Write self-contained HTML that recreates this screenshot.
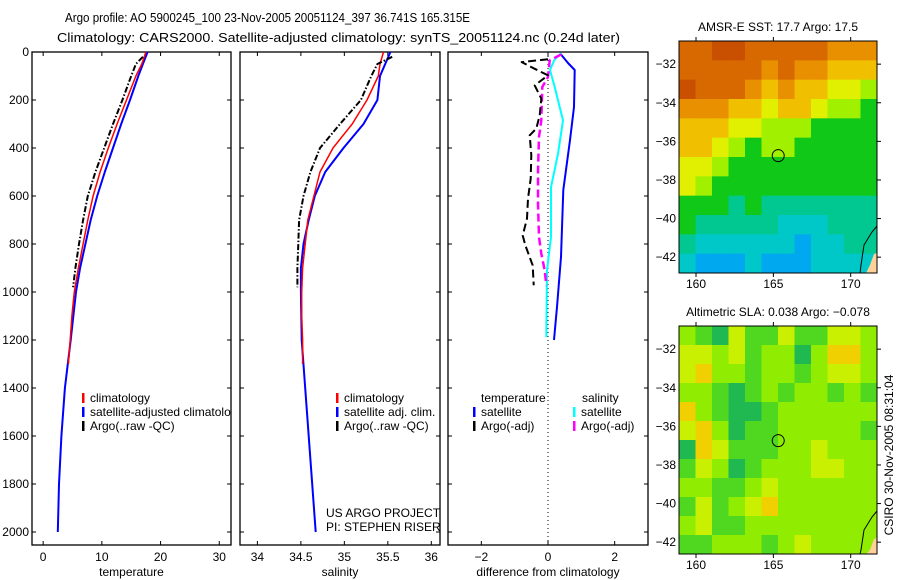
<!DOCTYPE html>
<html><head><meta charset="utf-8"><style>
html,body{margin:0;padding:0;background:#fff;}
svg{display:block;font-family:"Liberation Sans",sans-serif;}
text{font-size:12px;fill:#000;}
</style></head><body>
<svg id="c" width="900" height="580" viewBox="0 0 900 580" xmlns="http://www.w3.org/2000/svg">
<defs><clipPath id="cp1"><rect x="32" y="52" width="199" height="493"/></clipPath></defs>
<text x="65" y="22" style="font-size:13px" textLength="405" lengthAdjust="spacingAndGlyphs">Argo profile: AO 5900245_100 23-Nov-2005 20051124_397 36.741S 165.315E</text>
<text x="57" y="42" style="font-size:13px" textLength="563" lengthAdjust="spacingAndGlyphs">Climatology: CARS2000. Satellite-adjusted climatology: synTS_20051124.nc (0.24d later)</text>
<g id="layer"></g>
</svg>
<script>
// ---- data ----
const tDepthClim=[0,50,100,200,300,400,500,600,700,800,900,1000,1100,1200,1300];
const tClim=[17.5,16.8,15.8,14.2,12.6,11.1,9.7,8.5,7.6,6.8,6.0,5.3,4.9,4.6,4.3];
const tDepthSat=[0,50,100,200,300,400,500,600,700,800,900,1000,1200,1400,1600,1800,2000];
const tSat=[17.8,17.0,16.2,14.8,13.3,11.9,10.5,9.2,8.1,7.2,6.3,5.6,4.7,3.7,3.1,2.7,2.5];
const tDepthArgo=[20,50,100,200,300,400,500,600,700,800,900,980];
const tArgo=[17.0,15.8,15.0,13.5,11.9,10.4,8.9,7.6,6.8,6.1,5.5,5.1];
const sClim=[35.45,35.41,35.39,35.26,35.09,34.87,34.72,34.65,34.58,34.55,34.52,34.51,34.51,34.52,34.52];
const sSat=[35.53,35.47,35.41,35.38,35.22,34.99,34.78,34.66,34.59,34.53,34.5,34.5,34.51,34.55,34.59,34.63,34.67];
const sArgo=[35.55,35.38,35.31,35.19,34.95,34.72,34.61,34.53,34.48,34.47,34.46,34.46];
const dDepthT=[5,46,75,229,367,575,854,1062,1200];
const dTSat=[0.36,0.6,0.8,0.78,0.66,0.46,0.39,0.27,0.18];
const dDepthS=[5,30,75,146,285,424,563,771,910,1188];
const dSSat=[0.4,0.2,0.06,0.2,0.45,0.3,0.09,0.09,-0.03,-0.05];
const dDepthTA=[30,42,70,97,139,194,264,319,347,430,528,611,694,764,805,889,972];
const dTArgo=[0.0,-0.79,-0.4,0,-0.4,-0.2,-0.25,-0.35,-0.55,-0.5,-0.52,-0.6,-0.63,-0.76,-0.68,-0.46,-0.43];
const dDepthSA=[10,35,104,146,285,354,493,632,771,840,910,972];
const dSArgo=[0.4,0.05,0.0,-0.17,-0.2,-0.27,-0.3,-0.3,-0.27,-0.2,-0.1,-0.05];
const depthTicks=[0,200,400,600,800,1000,1200,1400,1600,1800,2000];
const tTicks=[0,10,20,30];
const sTicks=[34,34.5,35,35.5,36];
const dTicks=[-2,0,2];
const sstGrid=[
[8,8,9,9,8,8,8,8,8,7,7,7],
[8,8,8,8,8,7,8,7,7,6,6,6],
[9,8,8,8,7,6,7,6,6,5,5,4],
[7,7,7,6,6,5,6,6,5,4,4,3],
[6,6,6,5,5,4,4,4,3,3,3,3],
[6,6,5,4,3,4,4,3,3,3,3,3],
[5,5,4,3,3,3,3,3,3,3,3,3],
[5,4,3,3,3,3,3,3,3,3,3,3],
[3,3,3,2,3,2,2,2,2,2,2,2],
[3,2,2,2,2,2,1,1,1,2,2,2],
[2,1,1,1,1,1,1,0,1,1,2,2],
[1,0,0,0,1,0,0,0,1,1,1,1]];
const slaGrid=[
[2,1,0,3,1,1,3,1,1,3,3,2],
[3,3,2,3,1,2,2,0,2,4,4,2],
[3,4,2,2,1,2,2,1,2,3,3,2],
[2,2,1,0,1,2,1,2,2,1,2,1],
[4,2,1,0,0,1,2,2,2,2,2,2],
[3,4,2,0,1,1,2,2,2,2,2,1],
[0,4,3,1,1,1,2,2,3,2,2,2],
[1,3,2,0,1,2,2,2,3,3,2,2],
[2,2,1,1,2,3,2,2,2,2,2,2],
[1,3,1,2,3,4,2,2,2,2,2,2],
[2,3,1,1,2,2,2,2,2,2,2,2],
[1,1,2,2,2,1,2,3,2,2,2,2]];
const latTicks=[-32,-34,-36,-38,-40,-42];
const lonTicks=[160,165,170];
const argoLon=165.315, argoLat=-36.741;

const NS='http://www.w3.org/2000/svg';
const L=document.getElementById('layer');
function mk(tag,attrs,parent){const e=document.createElementNS(NS,tag);for(const k in attrs)e.setAttribute(k,attrs[k]);(parent||L).appendChild(e);return e;}
function txt(x,y,s,anchor,parent){const e=mk('text',{x:x,y:y,'text-anchor':anchor||'start'},parent);e.textContent=s;return e;}

const plotTop=52,plotBot=545;
function yD(d){return 52+d*0.24;}
function panel(name,x0,x1,xmin,xmax,xt,label,showY){
  const g=mk('g',{});
  
  
  const fx=v=>x0+(v-xmin)/(xmax-xmin)*(x1-x0);
  const r=mk('rect',{x:x0,y:plotTop,width:x1-x0,height:plotBot-plotTop,fill:'none',stroke:'#000','stroke-width':1.3},g);
  
  
  depthTicks.forEach(d=>{const y=yD(d);
    mk('line',{x1:x0,x2:x0+4,y1:y,y2:y,stroke:'#000'},g);
    mk('line',{x1:x1-4,x2:x1,y1:y,y2:y,stroke:'#000'},g);
    if(showY){const t=txt(x0-3,y+4,String(d),'end',g);
      
      }
  });
  xt.forEach(v=>{const x=fx(v);
    mk('line',{x1:x,x2:x,y1:plotBot,y2:plotBot-4,stroke:'#000'},g);
    mk('line',{x1:x,x2:x,y1:plotTop,y2:plotTop+4,stroke:'#000'},g);
    const t=txt(x,561,String(v).replace('-','\u2212'),'middle',g);
    
    
  });
  const xl=txt((x0+x1)/2,576,label,'middle',g);
  
  
  return {g,fx};
}
function line(p,xs,ds,color,w,dash,name){
  const pts=xs.map((v,i)=>p.fx(v).toFixed(1)+','+yD(ds[i]).toFixed(1)).join(' ');
  const e=mk('polyline',{points:pts,fill:'none',stroke:color,'stroke-width':w,'stroke-dasharray':dash||'none','stroke-linejoin':'round'},p.g);
  
  
}
function legend(g,x,y,color,s,name){
  mk('rect',{x:x,y:y-9,width:2.5,height:10,fill:color},g);
  const t=txt(x+8,y,s,'start',g);
  
  
}
// panel 1
const p1=panel('temperature-panel',32,231,-1.9,32,tTicks,'temperature',true);
line(p1,tSat,tDepthSat,'#0000ff',2,null,'temp-satellite-line');
line(p1,tClim,tDepthClim,'#ff0000',1.5,null,'temp-climatology-line');
line(p1,tArgo,tDepthArgo,'#000',2,'6,2,1.5,2','temp-argo-line');
const lg1=mk('g',{'clip-path':'url(#cp1)'},p1.g);


legend(lg1,82,402,'#ff0000','climatology','legend-climatology');
legend(lg1,82,416,'#0000ff','satellite-adjusted climatology','legend-satellite');
legend(lg1,82,430,'#000','Argo(..raw -QC)','legend-argo');
// panel 2
const p2=panel('salinity-panel',240,440,33.8,36.1,sTicks,'salinity',false);
line(p2,sSat,tDepthSat,'#0000ff',2,null,'sal-satellite-line');
line(p2,sClim,tDepthClim,'#ff0000',1.5,null,'sal-climatology-line');
line(p2,sArgo,tDepthArgo,'#000',2,'6,2,1.5,2','sal-argo-line');
legend(p2.g,336,402,'#ff0000','climatology','legend-climatology');
legend(p2.g,336,416,'#0000ff','satellite adj. clim.','legend-satellite');
legend(p2.g,336,430,'#000','Argo(..raw -QC)','legend-argo');
const c1=txt(326,517,'US ARGO PROJECT','start',p2.g);


const c2=txt(326,531,'PI: STEPHEN RISER','start',p2.g);


// panel 3
const p3=panel('difference-panel',448,648,-3,3,dTicks,'difference from climatology',false);
const z=mk('line',{x1:p3.fx(0),x2:p3.fx(0),y1:plotTop,y2:plotBot,stroke:'#000','stroke-dasharray':'1,3'},p3.g);


line(p3,dTSat,dDepthT,'#0000ff',2,null,'diff-temp-satellite-line');
line(p3,dSSat,dDepthS,'#00ffff',2,null,'diff-sal-satellite-line');
line(p3,dSArgo,dDepthSA,'#ff00ff',2.5,'8,4','diff-sal-argo-line');
line(p3,dTArgo,dDepthTA,'#000',2,'8,4','diff-temp-argo-line');
const h1=txt(481,402,'temperature','start',p3.g);


const h2=txt(582,402,'salinity','start',p3.g);


legend(p3.g,473,416,'#0000ff','satellite','legend-temp-satellite');
legend(p3.g,473,430,'#000','Argo(-adj)','legend-temp-argo');
legend(p3.g,573,416,'#00ffff','satellite','legend-sal-satellite');
legend(p3.g,573,430,'#ff00ff','Argo(-adj)','legend-sal-argo');

// maps
const sstColors=['#00a8f0','#00c8c8','#00c890','#10c818','#a0f000','#e0f000','#f0c000','#e89000','#d86800','#c85000'];
const slaColors=['#20b850','#50d820','#90ec00','#c8f000','#f0d000'];
function map(name,y0,y1,grid,colors,title){
  const g=mk('g',{});
  
  
  const x0=679,x1=877,lon0=158.9,lon1=171.7;
  const latTop=-30.8, perDeg=19.3;
  const fx=v=>x0+(v-lon0)/(lon1-lon0)*(x1-x0);
  const fy=v=>y0+(latTop-v)*perDeg;
  const nr=grid.length,nc=grid[0].length,cw=(x1-x0)/nc,ch=(y1-y0)/nr;
  grid.forEach((row,i)=>row.forEach((v,j)=>{
    const c=mk('rect',{x:x0+j*cw,y:y0+i*ch,width:cw+0.5,height:ch+0.5,fill:colors[v]},g);
    
    
  }));
  const dy=y0-41;
  mk('polygon',{points:`877,${253+dy} 874,${254+dy} 870,${265+dy} 866,${y1} 877,${y1}`,fill:'#ffd09a'},g);
  mk('polyline',{points:`877,${226+dy} 872,${232+dy} 864,${245+dy} 861,${265+dy} 860,${y1}`,fill:'none',stroke:'#000'},g);
  mk('rect',{x:x0,y:y0,width:x1-x0,height:y1-y0,fill:'none',stroke:'#000'},g);
  latTicks.forEach(v=>{const y=fy(v);
    mk('line',{x1:x1,x2:x1+4,y1:y,y2:y,stroke:'#000'},g);
    const t=txt(x0-3,y+4,'\u2212'+Math.abs(v),'end',g);
    
    });
  lonTicks.forEach(v=>{const x=fx(v);
    mk('line',{x1:x,x2:x,y1:y0,y2:y0-4,stroke:'#000'},g);
    mk('line',{x1:x,x2:x,y1:y1,y2:y1+4,stroke:'#000'},g);
    const t=txt(x,y1+15,String(v),'middle',g);
    
    });
  const m=mk('circle',{cx:fx(argoLon),cy:fy(argoLat),r:6,fill:'none',stroke:'#000'},g);
  
  
  const tt=txt(778,y0-10,title,'middle',g);
  
  
}
map('sst-map',41,273,sstGrid,sstColors,'AMSR-E SST: 17.7 Argo: 17.5');
map('sla-map',326,554,slaGrid,slaColors,'Altimetric SLA: 0.038 Argo: \u22120.078');
const cs=txt(0,0,'CSIRO 30-Nov-2005 08:31:04','middle');
cs.setAttribute('transform','translate(893,455) rotate(-90)');


</script>
</body></html>
